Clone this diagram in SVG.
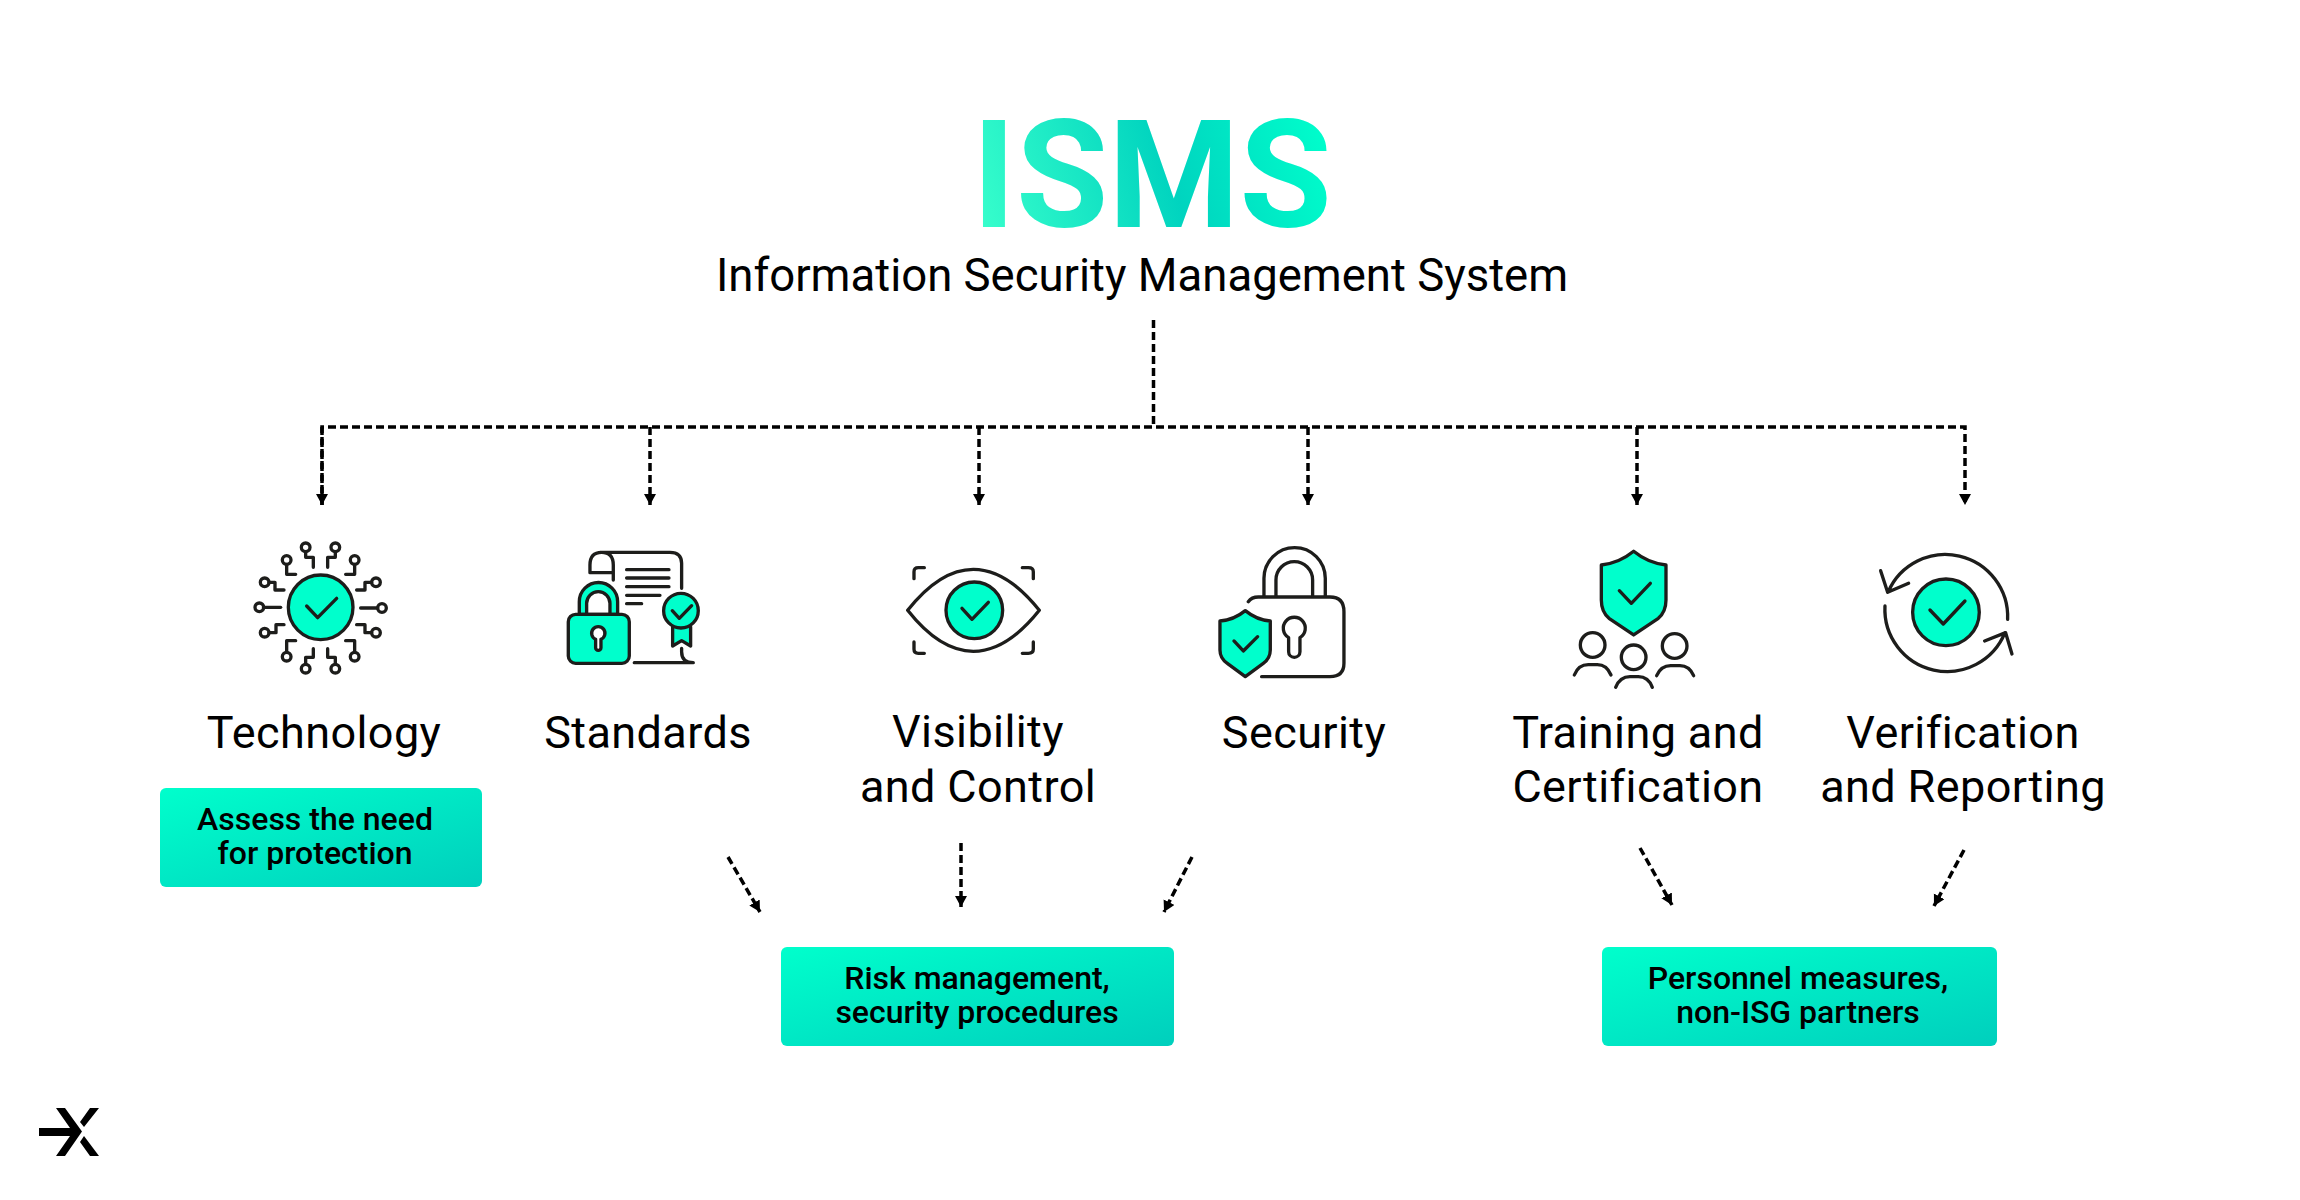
<svg xmlns="http://www.w3.org/2000/svg" width="2300" height="1200" viewBox="0 0 2300 1200">
<style>
text{font-family:Roboto,"Liberation Sans",sans-serif;text-anchor:middle;fill:#000}
.l{font-size:45px;letter-spacing:.4px}
.b{font-size:32px;font-weight:500}
.d{fill:none;stroke:#000;stroke-width:3.5;stroke-dasharray:8 4}
.i *{stroke:#1d1d1b;stroke-width:10;stroke-linecap:round;stroke-linejoin:round;fill:none}
.i .f{fill:#00ffcc}.i .w{fill:#fff}
</style>
<defs>
<linearGradient id="tg" gradientUnits="userSpaceOnUse" x1="977" y1="227" x2="1326" y2="120"><stop offset="0" stop-color="#38ffcc"/><stop offset=".55" stop-color="#00d4bf"/><stop offset="1" stop-color="#00ffcc"/></linearGradient>
<linearGradient id="bg" x1="0" y1="0" x2="1" y2="1"><stop offset="0" stop-color="#00ffcc"/><stop offset="1" stop-color="#00cfbd"/></linearGradient>
<marker id="a" markerUnits="userSpaceOnUse" markerWidth="14" markerHeight="14" refX="11" refY="6" orient="auto"><path d="M0 0L11 6L0 12Z" fill="#000"/></marker>
</defs>
<g id="title"><text x="1152" y="227" font-size="150" font-weight="700" style="fill:url(#tg)">ISMS</text>
<text x="1142" y="291" font-size="45.5">Information Security Management System</text></g>
<g id="connectors">
<path class="d" d="M1153.500 320V427"/>
<path class="d" d="M322 505V427H1965V505" marker-end="url(#a)"/>
<path class="d" d="M322 427V505" marker-end="url(#a)"/><path class="d" d="M650 427V505" marker-end="url(#a)"/><path class="d" d="M979 427V505" marker-end="url(#a)"/><path class="d" d="M1308 427V505" marker-end="url(#a)"/><path class="d" d="M1637 427V505" marker-end="url(#a)"/>
<path class="d" d="M728 857L760 912" marker-end="url(#a)"/><path class="d" d="M961 843V907" marker-end="url(#a)"/><path class="d" d="M1192 857L1164 912" marker-end="url(#a)"/>
<path class="d" d="M1640 848L1672 905" marker-end="url(#a)"/><path class="d" d="M1964 850L1934 906" marker-end="url(#a)"/>
</g>
<g id="technology"><g class="i" transform="translate(220 520) scale(.3333)">
<circle class="f" cx="302" cy="262" r="97"/><path d="M260 258L293 293L350 235"/>
<circle cx="118" cy="262" r="13"/><path d="M131 262H182"/><circle cx="486" cy="264" r="13"/><path d="M422 264H473"/>
<circle cx="257" cy="82" r="13"/><path d="M257 95V112H280V142"/><circle cx="346" cy="82" r="13"/><path d="M346 95V112H323V142"/>
<circle cx="200" cy="120" r="13"/><path d="M200 133V163H227"/><circle cx="404" cy="120" r="13"/><path d="M404 133V163H377"/>
<circle cx="134" cy="187" r="13"/><path d="M147 187H165V210H192"/><circle cx="468" cy="187" r="13"/><path d="M455 187H435V210H410"/>
<circle cx="134" cy="338" r="13"/><path d="M147 338H168V314H192"/><circle cx="468" cy="338" r="13"/><path d="M455 338H435V314H410"/>
<circle cx="200" cy="410" r="13"/><path d="M200 397V362H227"/><circle cx="404" cy="410" r="13"/><path d="M404 397V362H377"/>
<circle cx="257" cy="446" r="13"/><path d="M257 433V412H280V386"/><circle cx="346" cy="446" r="13"/><path d="M346 433V412H323V386"/>
</g><text class="l" x="324" y="748">Technology</text>
<rect x="160" y="788" width="322" height="99" rx="6" fill="url(#bg)"/><text class="b" x="315" y="830">Assess the need</text><text class="b" x="315" y="864">for protection</text></g>
<g id="standards"><g class="i" transform="translate(220 520) scale(.3333)">
<path d="M1140 97H1350Q1385 97 1385 130V205M1180 180V135Q1180 97 1145 97Q1110 97 1110 135V158H1175"/>
<path d="M1220 149H1347M1220 174H1347M1220 200H1347M1220 226H1320M1220 251H1265"/>
<path class="f" d="M1078 283V245a57 57 0 0 1 115 0V283Z"/><path class="w" d="M1100 283V250a35 35 0 0 1 70 0V283Z"/>
<rect class="f" x="1045" y="283" width="183" height="147" rx="22"/>
<path class="w" d="M1127 358V383a8 8 0 0 0 16 0V358A20 20 0 1 0 1127 358Z"/>
<path class="f" d="M1358 320V378L1385 362L1412 378V320"/><circle class="f" cx="1383" cy="272" r="52"/><path d="M1357 272L1378 295L1415 257"/>
<path d="M1243 428H1420M1385 385V395Q1385 428 1420 428"/>
</g><text class="l" x="648" y="748">Standards</text></g>
<g id="visibility"><g class="i" transform="translate(860 520) scale(.3333)">
<path d="M143 271Q240 148 340 148Q440 148 538 271Q440 394 340 394Q240 394 143 271Z"/><circle class="f" cx="343" cy="271" r="85"/><path d="M306 265L336 298L385 247"/>
<path d="M162 176V155Q162 143 175 143H193M487 143H505Q520 143 520 155V176M162 366V388Q162 400 175 400H193M487 400H505Q520 400 520 388V366"/>
</g><text class="l" x="978" y="747">Visibility</text><text class="l" x="978" y="802">and Control</text></g>
<g id="security"><g class="i" transform="translate(860 520) scale(.3333)">
<path d="M1165 245Q1175 231 1195 231H1410Q1452 231 1452 275V430Q1452 470 1410 470H1205"/>
<path d="M1212 228V175a92 92 0 0 1 184 0V228M1248 228V180a55 55 0 0 1 110 0V228"/>
<path d="M1286 353V395a17 17 0 0 0 34 0V353A33 33 0 1 0 1286 353Z"/>
<path class="f" d="M1156 272Q1190 300 1231 303V390Q1231 415 1210 430L1156 470L1102 430Q1080 415 1080 390V303Q1122 300 1156 272Z"/>
<path d="M1122 363L1150 393L1193 350"/>
</g><text class="l" x="1304" y="748">Security</text></g>
<g id="training"><g class="i" transform="translate(1520 520) scale(.3333)">
<path class="f" d="M341 94Q385 130 438 135V240Q438 275 415 295L341 345L267 295Q244 275 244 240V135Q297 130 341 94Z"/><path d="M298 212L334 250L391 190"/>
<circle cx="218" cy="375" r="37"/><circle cx="341" cy="412" r="37"/><circle cx="464" cy="378" r="37"/>
<path d="M163 465Q175 434 205 434H232Q260 434 273 465M287 502Q300 470 330 470H355Q385 470 397 502M410 467Q423 437 452 437H480Q508 437 521 467"/>
</g><text class="l" x="1638" y="748">Training and</text><text class="l" x="1638" y="802">Certification</text></g>
<g id="verification"><g class="i" transform="translate(1520 520) scale(.3333)">
<circle class="f" cx="1278" cy="277" r="100"/><path d="M1230 270L1270 312L1335 243"/>
<path d="M1463 298A187 187 0 0 0 1105 215M1095 258A187 187 0 0 0 1455 338M1082 152L1103 217L1166 190M1394 363L1457 338L1476 402"/>
</g><text class="l" x="1963" y="748">Verification</text><text class="l" x="1963" y="802">and Reporting</text></g>
<g id="risk"><rect x="781" y="947" width="393" height="99" rx="6" fill="url(#bg)"/><text class="b" x="977" y="989">Risk management,</text><text class="b" x="977" y="1023">security procedures</text></g>
<g id="personnel"><rect x="1602" y="947" width="395" height="99" rx="6" fill="url(#bg)"/><text class="b" x="1798" y="989">Personnel measures,</text><text class="b" x="1798" y="1023">non-ISG partners</text></g>
<g id="logo"><path d="M39 1128H70L56 1108H65L82 1108L82 1108Z" fill="none"/><path d="M56 1108H65L82 1131.500L65 1156H56L70 1136H39V1128H70Z" fill="#000"/><path d="M90 1108H99L84 1127L80 1122Z M80 1142L84 1136L99 1156H90Z" fill="#000"/></g>
</svg>
